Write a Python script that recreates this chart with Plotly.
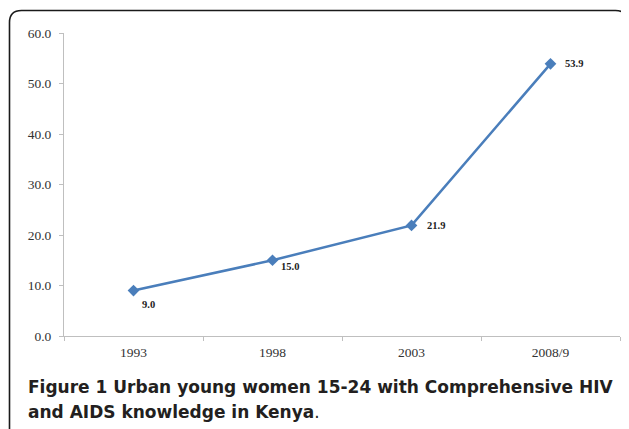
import plotly.graph_objects as go

years = ["1993", "1998", "2003", "2008/9"]
values = [9.0, 15.0, 21.9, 53.9]
label_offsets = [(15, -14), (17, -6), (24, 0), (23, 0)]

# page body has an 8px margin; the figure is sized and placed so the
# visible result lines up with a 629x429 window
OFF = 8
W, H = 629 - OFF, 429 - OFF
L, R, T, B = 64 - OFF, 9, 33 - OFF, 93
pw, ph = W - L - R, H - T - B


def px(x):
    return (x - OFF - L) / pw


def py(y):
    return (H - B - (y - OFF)) / ph


fig = go.Figure()
fig.add_trace(go.Scatter(
    x=years, y=values, mode="lines+markers",
    line=dict(color="#4a7ebb", width=2.5),
    marker=dict(symbol="diamond", size=9, color="#4a7ebb"),
    hoverinfo="skip", showlegend=False,
))

annotations = []
for i, (v, (dx, dy)) in enumerate(zip(values, label_offsets)):
    annotations.append(dict(
        x=i, y=v, xref="x", yref="y", text=f"<b>{v:.1f}</b>",
        showarrow=False, xshift=dx, yshift=dy,
        font=dict(family="Liberation Serif", size=10.5, color="#222"),
    ))

cap_font = dict(family="DejaVu Sans", size=17, color="#231f20")
annotations.append(dict(
    x=px(26), y=py(387), xref="paper", yref="paper", xanchor="left", yanchor="middle",
    text="<b>Figure 1 Urban young women 15-24 with Comprehensive HIV</b>",
    showarrow=False, font=cap_font,
))
annotations.append(dict(
    x=px(26), y=py(412), xref="paper", yref="paper", xanchor="left", yanchor="middle",
    text="<b>and AIDS knowledge in Kenya</b>.",
    showarrow=False, font=cap_font,
))

# rounded border box
x0, x1, y0, y1, r = 9.5, 627.5, 10.5, 445, 12
path = (f"M {px(x0)},{py(y1)} L {px(x0)},{py(y0 + r)} "
        f"Q {px(x0)},{py(y0)} {px(x0 + r)},{py(y0)} "
        f"L {px(x1 - r)},{py(y0)} Q {px(x1)},{py(y0)} {px(x1)},{py(y0 + r)} "
        f"L {px(x1)},{py(y1)}")

tick_font = dict(family="Liberation Serif", size=13.5, color="#333")

fig.update_layout(
    width=W, height=H,
    margin=dict(l=L, r=R, t=T, b=B),
    paper_bgcolor="white", plot_bgcolor="white",
    annotations=annotations,
    shapes=[dict(type="path", path=path, xref="paper", yref="paper",
                 line=dict(color="#1a1a1a", width=1.6), layer="above")],
    xaxis=dict(
        type="category", range=[-0.5, 3.5], showgrid=False, zeroline=False,
        showline=True, linecolor="#bfbfbf", linewidth=1,
        ticks="outside", tickson="boundaries", ticklen=4, tickcolor="#bfbfbf",
        tickfont=tick_font, ticklabelstandoff=4,
    ),
    yaxis=dict(
        range=[0, 60], dtick=10, tickformat=".1f", showgrid=False, zeroline=False,
        showline=True, linecolor="#bfbfbf", linewidth=1,
        ticks="outside", ticklen=4, tickcolor="#bfbfbf",
        tickfont=tick_font, ticklabelstandoff=5,
    ),
)

fig.write_html("out.html")
